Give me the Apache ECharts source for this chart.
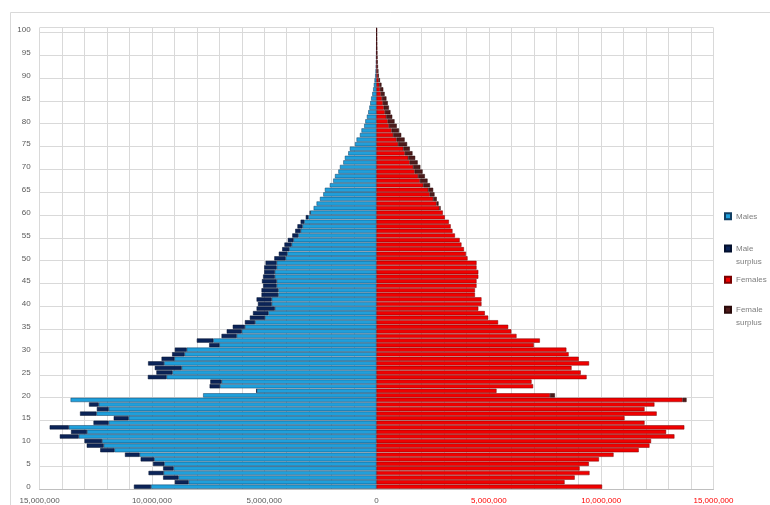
<!DOCTYPE html>
<html>
<head>
<meta charset="utf-8">
<script src="https://cdn.jsdelivr.net/npm/echarts@6/dist/echarts.min.js"></script>
<style>
html,body{margin:0;padding:0;background:#fff;}
#chart{width:770px;height:505px;}
</style>
</head>
<body>
<div id="chart"></div>
<script>
// Ages 0..100
var ages = [];
for (var i = 0; i <= 100; i++) ages.push(String(i));

// Total males per age (millions)
var males = [
10.8, 8.98, 9.5, 10.15, 9.5, 9.95, 10.5, 11.2, 12.3, 12.9,
13.0, 14.1, 13.6, 14.55, 12.6, 11.7, 13.2, 12.45, 12.8, 13.62,
7.72, 5.35, 7.43, 7.4, 10.18, 9.8, 9.87, 10.17, 9.57, 9.1,
8.98, 7.45, 8.0, 6.9, 6.67, 6.4, 5.86, 5.64, 5.5, 5.34,
5.28, 5.34, 5.12, 5.12, 5.05, 5.1, 5.05, 5.0, 5.0, 4.94,
4.55, 4.35, 4.2, 4.1, 3.95, 3.75, 3.62, 3.52, 3.38, 3.15,
2.97, 2.8, 2.67, 2.52, 2.37, 2.3, 2.08, 1.93, 1.85, 1.7,
1.63, 1.48, 1.41, 1.26, 1.19, 0.96, 0.89, 0.74, 0.67, 0.55,
0.5, 0.43, 0.37, 0.32, 0.28, 0.24, 0.19, 0.15, 0.12, 0.09,
0.06, 0.045, 0.035, 0.025, 0.018, 0.012, 0.008, 0.006, 0.004, 0.003,
0.003
];

// Total females per age (millions)
var females = [
10.04, 8.37, 8.82, 9.48, 9.04, 9.45, 9.9, 10.55, 11.67, 12.15,
12.22, 13.26, 12.89, 13.7, 11.93, 11.04, 12.47, 11.93, 12.37, 13.8,
7.94, 5.34, 6.97, 6.9, 9.35, 9.09, 8.68, 9.46, 9.0, 8.55,
8.45, 7.0, 7.27, 6.23, 6.0, 5.86, 5.41, 4.97, 4.82, 4.53,
4.67, 4.67, 4.38, 4.38, 4.45, 4.45, 4.53, 4.53, 4.45, 4.45,
4.05, 3.98, 3.89, 3.78, 3.7, 3.49, 3.38, 3.3, 3.22, 3.04,
2.95, 2.85, 2.76, 2.68, 2.58, 2.52, 2.38, 2.27, 2.15, 2.05,
1.95, 1.83, 1.72, 1.6, 1.48, 1.36, 1.25, 1.1, 1.0, 0.9,
0.8, 0.7, 0.62, 0.55, 0.5, 0.44, 0.36, 0.3, 0.22, 0.15,
0.1, 0.08, 0.06, 0.045, 0.035, 0.025, 0.018, 0.013, 0.009, 0.007,
0.006
];

var seriesNames = ['Males', 'Male surplus', 'Females', 'Female surplus'];
var UNIT = 1e6;

// Derived series: common part and surplus
var base = [], maleSur = [], femaleSur = [];
for (var k = 0; k < ages.length; k++) {
  var m = males[k] * UNIT, f = females[k] * UNIT;
  base.push(Math.min(m, f));
  maleSur.push(m > f ? m - f : 0);
  femaleSur.push(f > m ? f - m : 0);
}

function fmt(v) {
  return Math.abs(v).toFixed(0).replace(/\B(?=(\d{3})+(?!\d))/g, ',');
}

var chart = echarts.init(document.getElementById('chart'), null, {renderer: 'canvas'});
var FONT = 'Liberation Sans';

function legendItem(name, top) {
  return {
    orient: 'vertical',
    left: 719,
    top: top,
    data: [name],
    itemWidth: 6,
    itemHeight: 6,
    itemGap: 0,
    icon: 'rect',
    selectedMode: false,
    formatter: function (n) {
      if (n === 'Male surplus') return '{s| }\n{a|Male}\n{a|surplus}';
      if (n === 'Female surplus') return '{s| }\n{a|Female}\n{a|surplus}';
      return '{a|' + n + '}';
    },
    textStyle: {
      fontFamily: FONT, fontSize: 8, color: '#7f7f7f', lineHeight: 13,
      rich: {
        a: {fontFamily: FONT, fontSize: 8, color: '#7f7f7f', lineHeight: 13},
        s: {fontFamily: FONT, fontSize: 8, lineHeight: 13}
      }
    }
  };
}

var option = {
  animation: false,
  backgroundColor: '#ffffff',
  textStyle: {fontFamily: FONT},
  graphic: [{
    type: 'rect',
    shape: {x: 10.5, y: 12.5, width: 800, height: 600},
    style: {fill: 'none', stroke: '#d9d9d9', lineWidth: 1},
    silent: true, z: -10
  }],
  legend: [
    legendItem('Males', 204.8),
    legendItem('Male surplus', 224),
    legendItem('Females', 268.3),
    legendItem('Female surplus', 285.3)
  ],
  grid: {left: 39.6, right: 56.5, top: 27.7, bottom: 15.7, containLabel: false},
  xAxis: {
    type: 'value',
    min: -15000000,
    max: 15000000,
    interval: 1000000,
    axisLine: {show: true, lineStyle: {color: '#bfbfbf'}},
    axisTick: {show: false},
    splitLine: {show: true, lineStyle: {color: '#d9d9d9', width: 1}},
    axisLabel: {
      fontFamily: FONT, fontSize: 8, margin: 8,
      showMinLabel: true, showMaxLabel: true,
      formatter: function (v) { return (v % 5000000 === 0) ? fmt(v) : ''; },
      color: function (v) { return Number(v) > 0 ? '#ff0000' : '#595959'; }
    }
  },
  yAxis: {
    type: 'category',
    data: ages,
    boundaryGap: true,
    axisLine: {show: true, lineStyle: {color: '#bfbfbf'}},
    axisTick: {show: false, interval: 4},
    axisLabel: {interval: 4, fontFamily: FONT, fontSize: 8, color: '#595959', margin: 9},
    splitLine: {show: true, interval: 4, lineStyle: {color: '#d9d9d9', width: 1}}
  },
  series: [
    {
      name: seriesNames[0], type: 'bar', stack: 'pop', barCategoryGap: '8%',
      data: base.map(function (v) { return -v; }),
      itemStyle: {color: '#1fa0dc', borderColor: '#123f63', borderWidth: 0.5}
    },
    {
      name: seriesNames[1], type: 'bar', stack: 'pop',
      data: maleSur.map(function (v) { return v > 0 ? -v : '-'; }),
      itemStyle: {color: '#0b2458', borderColor: '#03102e', borderWidth: 0.5}
    },
    {
      name: seriesNames[2], type: 'bar', stack: 'pop',
      data: base.slice(),
      itemStyle: {color: '#f00000', borderColor: '#7a0000', borderWidth: 0.5}
    },
    {
      name: seriesNames[3], type: 'bar', stack: 'pop',
      data: femaleSur.map(function (v) { return v > 0 ? v : '-'; }),
      itemStyle: {color: '#4e1a1a', borderColor: '#2a0a0a', borderWidth: 0.5}
    }
  ]
};
chart.setOption(option);
</script>
</body>
</html>
